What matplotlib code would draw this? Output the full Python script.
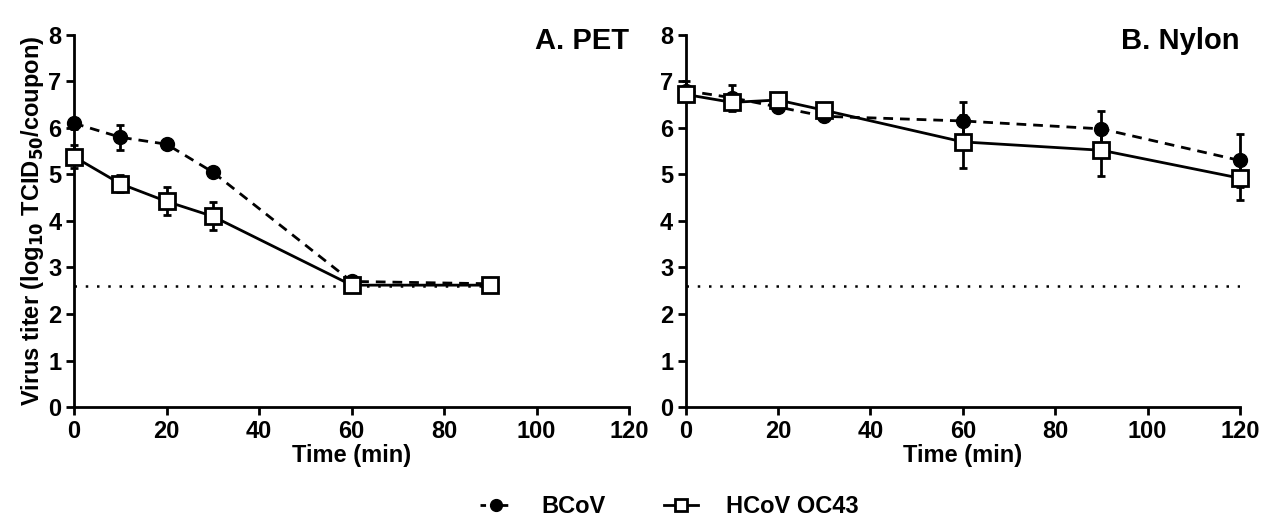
import numpy as np
import matplotlib.pyplot as plt
from matplotlib.lines import Line2D

plt.rcParams["font.family"] = ["Liberation Sans", "DejaVu Sans"]
plt.rcParams["font.weight"] = "bold"
plt.rcParams["mathtext.default"] = "bf"

# Panel A: PET
pet_time = [0, 10, 20, 30, 60, 90]
pet_bcov = [6.1, 5.8, 5.65, 5.05, 2.7, 2.65]
pet_bcov_err = [0.12, 0.27, 0.05, 0.06, 0.05, 0.05]
pet_hcov = [5.38, 4.8, 4.42, 4.1, 2.62, 2.62]
pet_hcov_err = [0.25, 0.18, 0.3, 0.3, 0.05, 0.05]

# Panel B: Nylon
nyl_time = [0, 10, 20, 30, 60, 90, 120]
nyl_bcov = [6.8, 6.65, 6.45, 6.25, 6.15, 5.98, 5.3]
nyl_bcov_err = [0.2, 0.28, 0.05, 0.05, 0.4, 0.38, 0.58]
nyl_hcov = [6.72, 6.55, 6.6, 6.38, 5.7, 5.52, 4.92]
nyl_hcov_err = [0.12, 0.1, 0.1, 0.1, 0.57, 0.55, 0.48]

detection_limit = 2.6
panels = [
    ("A. PET", pet_time, pet_bcov, pet_bcov_err, pet_hcov, pet_hcov_err, 90),
    ("B. Nylon", nyl_time, nyl_bcov, nyl_bcov_err, nyl_hcov, nyl_hcov_err, 120),
]

fig = plt.figure(figsize=(12.77, 5.29), dpi=100)
ax_pos = [[0.058, 0.2306, 0.4346, 0.7034], [0.537, 0.2306, 0.434, 0.7034]]

for pos, (title, t, b, be, h, he, lod_end) in zip(ax_pos, panels):
    ax = fig.add_axes(pos)
    ax.plot([0, lod_end], [detection_limit] * 2, color="black", ls=(0, (1, 3.5)), lw=1.8)
    ax.errorbar(t, b, yerr=be, color="black", ls=(0, (3.5, 2.5)), lw=2,
                marker="o", ms=10, capsize=3, capthick=2, elinewidth=2,
                clip_on=False, zorder=3)
    ax.errorbar(t, h, yerr=he, color="black", ls="-", lw=2,
                marker="s", ms=11, mfc="white", mew=2, capsize=3,
                capthick=2, elinewidth=2, clip_on=False, zorder=4)
    ax.set_xlim(0, 120)
    ax.set_ylim(0, 8)
    ax.set_xticks(np.arange(0, 121, 20))
    ax.set_yticks(np.arange(0, 9, 1))
    for s in ["top", "right"]:
        ax.spines[s].set_visible(False)
    for s in ["left", "bottom"]:
        ax.spines[s].set_linewidth(2)
    ax.tick_params(width=2, length=6, labelsize=17, direction="out", pad=3)
    ax.set_xlabel("Time (min)", fontsize=17, fontweight="bold", labelpad=1)
    ax.text(1.0, 1.02, title, transform=ax.transAxes, ha="right", va="top",
            fontsize=21, fontweight="bold")
    if title.startswith("A"):
        ax.set_ylabel("Virus titer (log$_{10}$ TCID$_{50}$/coupon)",
                      fontsize=17, fontweight="bold", labelpad=2)

handles = [
    Line2D([], [], color="black", ls=(0, (2, 2)), lw=2, marker="o", ms=10),
    Line2D([], [], color="black", ls="-", lw=2, marker="s", ms=11, mfc="white", mew=2),
]
fig.legend(handles, ["BCoV", "HCoV OC43"], loc="lower center", ncol=2,
           frameon=False, fontsize=17, bbox_to_anchor=(0.524, -0.02),
           handlelength=1.4, markerscale=0.85, columnspacing=2.5, handletextpad=1.2)

fig.savefig("out.png", dpi=100)
